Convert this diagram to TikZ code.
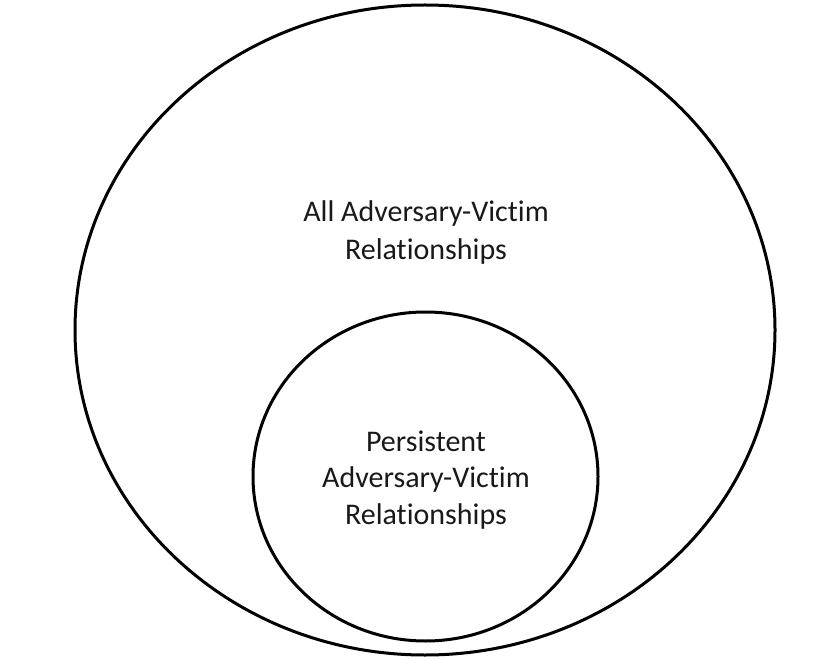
\documentclass[tikz,border=0pt]{standalone}
\usepackage{fontspec}
\setmainfont[Ligatures=NoCommon]{Carlito}
\tikzset{
  ring/.style={draw=black, line width=3pt},
  lbl/.style={anchor=base, inner sep=0pt, font=\fontsize{30}{36}\selectfont, text=black!90}
}
\begin{document}
\begin{tikzpicture}[x=1pt,y=-1pt]
\useasboundingbox (0,0) rectangle (832,660);
\draw[ring] (425,330) ellipse [x radius=350, y radius=325];
\draw[ring] (425.5,476.5) ellipse [x radius=172.5, y radius=164.5];
\node[lbl] (all1) at (426,222) {All Adversary-Victim};
\node[lbl] (all2) at (426,259) {Relationships};
\node[lbl] (per1) at (426,451) {Persistent};
\node[lbl] (per2) at (426,487.5) {Adversary-Victim};
\node[lbl] (per3) at (426,524) {Relationships};
\end{tikzpicture}
\end{document}
